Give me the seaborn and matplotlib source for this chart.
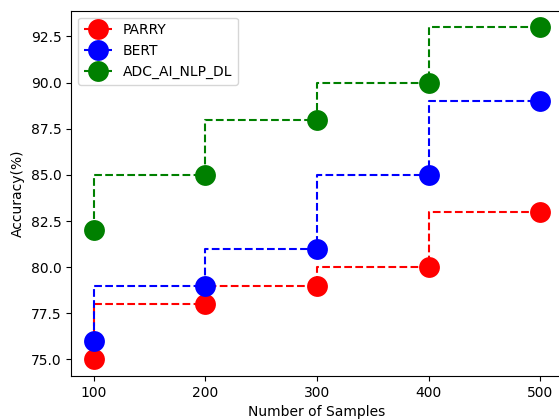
import numpy as np
import matplotlib
matplotlib.use("Agg")
import matplotlib.pyplot as plt
import seaborn as sns

samples = [100, 200, 300, 400, 500]
parry = [75, 78, 79, 80, 83]
bert = [76, 79, 81, 85, 89]
adc = [82, 85, 88, 90, 93]

series = [("PARRY", parry, "red"), ("BERT", bert, "blue"), ("ADC_AI_NLP_DL", adc, "green")]

fig = plt.figure(figsize=(5.59, 4.19), dpi=100)
# axes runs past the right edge, as in the (cropped) reference
ax = fig.add_axes([0.1276, 0.1026, 0.879, 0.872])

for name, vals, col in series:
    sns.lineplot(x=samples, y=vals, color=col, label=name, marker="o", markersize=15,
                 linestyle="--", drawstyle="steps-pre", markeredgewidth=0, ax=ax)

ax.set_xlim(80, 520)
ax.set_ylim(74.1, 93.9)
ax.set_xticks(samples)
ax.set_yticks(np.arange(75, 93, 2.5))
ax.set_xlabel("Number of Samples")
ax.set_ylabel("Accuracy(%)")
ax.legend(loc="upper left")

fig.savefig("out.png", dpi=100)
